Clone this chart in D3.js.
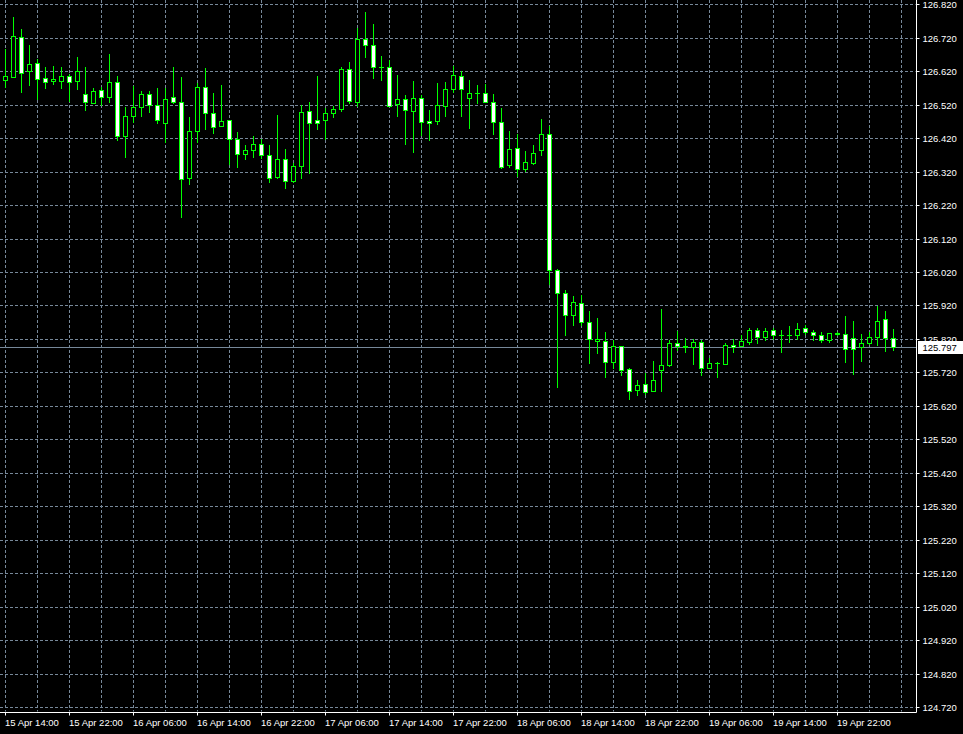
<!DOCTYPE html>
<html><head><meta charset="utf-8">
<script src="https://cdn.jsdelivr.net/npm/d3@7"></script>
<style>html,body{margin:0;padding:0;background:#000;overflow:hidden}</style>
</head><body><svg id="c" width="963" height="734"></svg>
<script>
// H1 candles, first bar = 15 Apr 14:00
const openP = [126.595,126.604,126.721,126.620,126.644,126.599,126.590,126.592,126.605,126.592,
126.551,126.526,126.563,126.542,126.587,126.425,126.485,126.512,126.551,126.518,
126.466,126.542,126.527,126.300,126.441,126.572,126.494,126.455,126.473,126.416,
126.374,126.384,126.404,126.371,126.305,126.357,126.291,126.336,126.500,126.473,
126.473,126.494,126.506,126.626,126.527,126.715,126.697,126.632,126.632,126.521,
126.536,126.500,126.539,126.470,126.470,126.515,126.566,126.605,126.539,126.554,
126.554,126.527,126.467,126.339,126.390,126.327,126.345,126.384,126.431,126.025,
125.956,125.890,125.926,125.872,125.815,125.815,125.750,125.798,125.729,125.666,
125.684,125.663,125.726,125.741,125.807,125.798,125.795,125.810,125.732,125.747,
125.744,125.801,125.798,125.810,125.846,125.827,125.846,125.833,125.833,125.831,
125.854,125.842,125.833,125.816,125.839,125.836,125.824,125.795,125.807,125.827,
125.881,125.824];
const highP = [126.685,126.782,126.746,126.698,126.656,126.633,126.636,126.633,126.612,126.662,
126.633,126.569,126.572,126.671,126.605,126.512,126.575,126.561,126.560,126.569,
126.570,126.633,126.603,126.483,126.585,126.630,126.555,126.579,126.473,126.437,
126.401,126.425,126.416,126.401,126.488,126.387,126.346,126.518,126.527,126.605,
126.509,126.515,126.632,126.647,126.748,126.796,126.760,126.665,126.653,126.608,
126.548,126.590,126.548,126.503,126.584,126.587,126.635,126.620,126.593,126.578,
126.581,126.551,126.509,126.440,126.431,126.381,126.399,126.476,126.455,126.028,
125.965,125.947,125.950,125.902,125.884,125.842,125.816,125.798,125.732,125.696,
125.717,125.753,125.908,125.816,125.845,125.824,125.821,125.818,125.762,125.750,
125.807,125.821,125.833,125.854,125.854,125.854,125.854,125.848,125.860,125.869,
125.863,125.848,125.842,125.839,125.842,125.887,125.875,125.836,125.842,125.917,
125.902,125.851];
const lowP = [126.574,126.604,126.558,126.580,126.538,126.570,126.583,126.570,126.532,126.567,
126.505,126.524,126.519,126.527,126.413,126.363,126.467,126.487,126.499,126.464,
126.409,126.524,126.185,126.284,126.407,126.446,126.436,126.455,126.342,126.335,
126.357,126.364,126.360,126.290,126.300,126.270,126.288,126.300,126.315,126.448,
126.416,126.482,126.500,126.524,126.515,126.662,126.601,126.593,126.515,126.485,
126.404,126.378,126.429,126.413,126.461,126.485,126.557,126.485,126.451,126.526,
126.527,126.431,126.332,126.335,126.306,126.321,126.342,126.369,125.983,125.675,
125.833,125.863,125.863,125.747,125.777,125.705,125.732,125.711,125.639,125.651,
125.654,125.663,125.663,125.738,125.786,125.780,125.744,125.711,125.732,125.705,
125.744,125.780,125.798,125.804,125.807,125.816,125.821,125.780,125.811,125.821,
125.836,125.816,125.810,125.810,125.833,125.750,125.714,125.753,125.804,125.801,
125.783,125.786];
const closeP = [126.605,126.724,126.616,126.641,126.596,126.587,126.597,126.605,126.587,126.620,
126.527,126.560,126.542,126.587,126.425,126.485,126.512,126.551,126.518,126.473,
126.536,126.527,126.297,126.441,126.572,126.494,126.452,126.470,126.416,126.374,
126.384,126.404,126.371,126.300,126.357,126.291,126.336,126.497,126.464,126.464,
126.494,126.506,126.626,126.530,126.715,126.697,126.632,126.632,126.515,126.536,
126.503,126.539,126.467,126.464,126.518,126.566,126.608,126.566,126.554,126.554,
126.527,126.467,126.335,126.387,126.327,126.348,126.375,126.431,126.025,125.956,
125.890,125.929,125.872,125.821,125.821,125.750,125.798,125.726,125.663,125.681,
125.660,125.696,125.741,125.807,125.798,125.797,125.810,125.732,125.747,125.747,
125.801,125.795,125.813,125.846,125.825,125.845,125.831,125.833,125.833,125.851,
125.842,125.831,125.816,125.839,125.836,125.791,125.791,125.807,125.827,125.875,
125.824,125.797];
const timeLabels = ["15 Apr 14:00","15 Apr 22:00","16 Apr 06:00","16 Apr 14:00","16 Apr 22:00",
"17 Apr 06:00","17 Apr 14:00","17 Apr 22:00","18 Apr 06:00","18 Apr 14:00","18 Apr 22:00",
"19 Apr 06:00","19 Apr 14:00","19 Apr 22:00"];
const priceTicks = [126.82,126.72,126.62,126.52,126.42,126.32,126.22,126.12,126.02,125.92,125.82,
125.72,125.62,125.52,125.42,125.32,125.22,125.12,125.02,124.92,124.82,124.72];
const lastPrice = 125.797;

const W = 963, H = 734, axisX = 916.5, axisY = 712.5;
const GREEN = "#00ff00", GRID = "#778899";
const FONT = "'Liberation Sans', Arial, sans-serif";
const svg = d3.select("#c");
svg.append("rect").attr("width", W).attr("height", H).attr("fill", "#000");

const n = openP.length;
const x = d3.scaleLinear().domain([0, n - 1]).range([5, 5 + 8 * (n - 1)]);
const y = d3.scaleLinear().domain([124.72, 126.82]).range([707, 4.3]);
const crisp = v => Math.round(v) + 0.5;

// grid
const g = svg.append("g");
g.selectAll("line.h").data(priceTicks).join("line")
  .attr("x1", 0).attr("x2", axisX - 1)
  .attr("y1", d => crisp(y(d))).attr("y2", d => crisp(y(d)))
  .attr("stroke", GRID).attr("stroke-dasharray", "3,2");
const vIdx = d3.range(0, n + 1, 4);
g.selectAll("line.v").data(vIdx).join("line")
  .attr("x1", d => crisp(x(d))).attr("x2", d => crisp(x(d)))
  .attr("y1", 0).attr("y2", axisY - 1)
  .attr("stroke", GRID).attr("stroke-dasharray", "3,2");

// current price line
svg.append("line").attr("x1", 0).attr("x2", axisX)
  .attr("y1", crisp(y(lastPrice))).attr("y2", crisp(y(lastPrice)))
  .attr("stroke", GRID);

// candles
const idx = d3.range(n);
const cg = svg.append("g");
cg.selectAll("line.w").data(idx).join("line")
  .attr("x1", i => crisp(x(i))).attr("x2", i => crisp(x(i)))
  .attr("y1", i => Math.round(y(highP[i]))).attr("y2", i => Math.round(y(lowP[i])) + 1)
  .attr("stroke", GREEN);
idx.forEach(i => {
  const cx = crisp(x(i));
  const t = Math.round(y(Math.max(openP[i], closeP[i])));
  const b = Math.round(y(Math.min(openP[i], closeP[i])));
  if (b - t < 1) {
    cg.append("line").attr("x1", cx - 2.5).attr("x2", cx + 2.5)
      .attr("y1", t + 0.5).attr("y2", t + 0.5).attr("stroke", GREEN);
  } else {
    cg.append("rect").attr("x", cx - 2).attr("y", t + 0.5)
      .attr("width", 4).attr("height", b - t)
      .attr("fill", closeP[i] > openP[i] ? "#000" : "#fff")
      .attr("stroke", GREEN);
  }
});

// axes lines
svg.append("line").attr("x1", axisX).attr("x2", axisX).attr("y1", 0).attr("y2", axisY)
  .attr("stroke", "#fff");
svg.append("line").attr("x1", 0).attr("x2", axisX).attr("y1", axisY).attr("y2", axisY)
  .attr("stroke", "#fff");

// right axis
const ya = svg.append("g").attr("transform", `translate(${axisX},0.5)`)
  .call(d3.axisRight(y).tickValues(priceTicks).tickFormat(d3.format(".3f"))
    .tickSize(3).tickSizeOuter(0).tickPadding(3));
ya.select(".domain").remove();
ya.selectAll(".tick line").attr("stroke", "#fff");
ya.selectAll("text").attr("fill", "#fff").attr("font-family", FONT).attr("font-size", "9.5px");
ya.selectAll(".tick").attr("transform", d => `translate(0,${Math.round(y(d))})`);

// bottom axis
const tIdx = timeLabels.map((d, k) => k * 8);
const xa = svg.append("g").attr("transform", `translate(0,${axisY})`)
  .call(d3.axisBottom(x).tickValues(tIdx).tickFormat((d, k) => timeLabels[k])
    .tickSize(3).tickSizeOuter(0).tickPadding(4));
xa.select(".domain").remove();
xa.selectAll(".tick").attr("transform", d => `translate(${crisp(x(d))},0)`);
xa.selectAll(".tick line").attr("stroke", "#fff");
xa.selectAll("text").attr("fill", "#fff").attr("text-anchor", "start").attr("x", -0.5)
  .attr("font-family", FONT).attr("font-size", "9.5px");

// current price label
const ly = Math.round(y(lastPrice));
svg.append("rect").attr("x", 918.5).attr("y", ly - 5.5).attr("width", 44).attr("height", 12)
  .attr("fill", "#fff").attr("stroke", "#fff");
svg.append("text").attr("x", 922.5).attr("y", ly + 0.5).attr("dy", "0.34em")
  .attr("fill", "#000").attr("font-family", FONT).attr("font-size", "9.5px")
  .text(d3.format(".3f")(lastPrice));
</script></body></html>
